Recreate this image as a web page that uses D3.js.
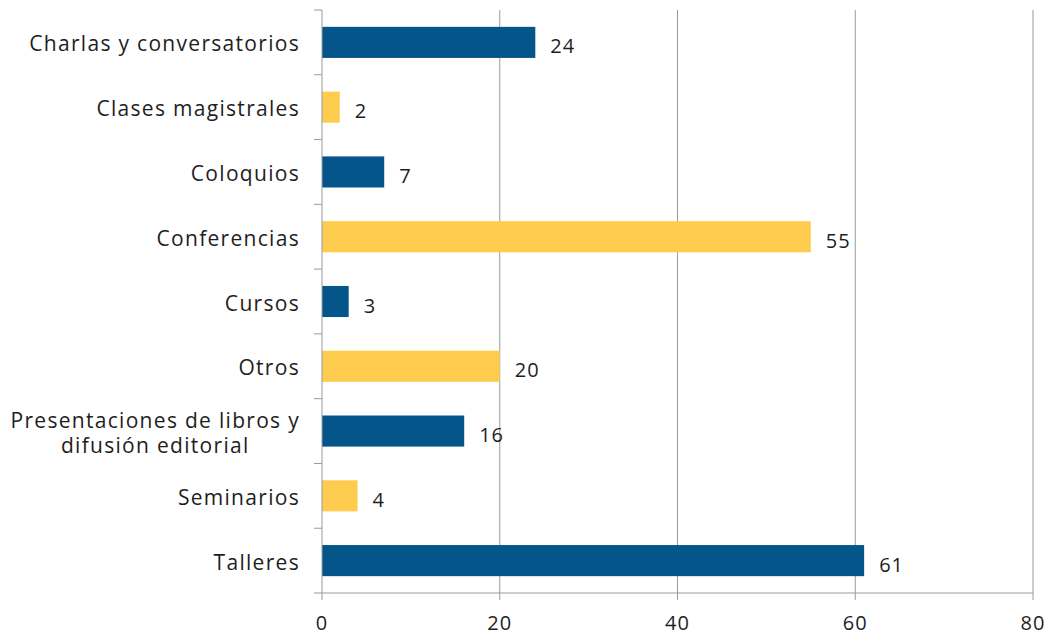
<!DOCTYPE html>
<html><head><meta charset="utf-8">
<script src="https://cdn.jsdelivr.net/npm/d3@7"></script>
<style>body{margin:0;background:#fff;}svg{display:block;font-family:"Open Sans",Lato,sans-serif;}</style>
</head><body>
<svg id="c" width="1052" height="634"></svg>
<script>
const categories = ["Charlas y conversatorios","Clases magistrales","Coloquios","Conferencias","Cursos","Otros","Presentaciones de libros y\ndifusión editorial","Seminarios","Talleres"];
const values = [24,2,7,55,3,20,16,4,61];
const barColors = ["#04558A","#FECD4F"];
const xTicks = [0,20,40,60,80];

const svg = d3.select("#c");
const m = {left:322, right:1033, top:10, bottom:593};
const x = d3.scaleLinear().domain([0,80]).range([m.left,m.right]);
const y = d3.scaleBand().domain(categories).range([m.top,m.bottom]).paddingInner(0.52).paddingOuter(0.26);
const yb = d3.scaleBand().domain(categories).range([m.top,m.bottom]);
const txt = "#1e1e1e";

// gridlines
svg.append("g").selectAll("line").data(xTicks.slice(1)).join("line")
  .attr("x1",d=>x(d)).attr("x2",d=>x(d)).attr("y1",m.top).attr("y2",m.bottom)
  .attr("stroke","#9a9a9a").attr("stroke-width",1);

// bars
svg.append("g").selectAll("rect").data(categories).join("rect")
  .attr("x",x(0)).attr("y",d=>y(d)).attr("height",y.bandwidth())
  .attr("width",(d,i)=>x(values[i])-x(0))
  .attr("fill",(d,i)=>barColors[i%2]);

// value labels
svg.append("g").selectAll("text").data(categories).join("text")
  .attr("x",(d,i)=>x(values[i])+15).attr("y",d=>y(d)+y.bandwidth()/2+11)
  .attr("font-size",20).attr("letter-spacing",1).attr("fill",txt)
  .text((d,i)=>values[i]);

// x axis
const xa = svg.append("g");
xa.append("line").attr("x1",m.left).attr("x2",m.right).attr("y1",m.bottom).attr("y2",m.bottom).attr("stroke","#9a9a9a");
xa.selectAll("line.t").data(xTicks).join("line").attr("class","t")
  .attr("x1",d=>x(d)).attr("x2",d=>x(d)).attr("y1",m.bottom).attr("y2",m.bottom+7).attr("stroke","#9a9a9a");
xa.selectAll("text").data(xTicks).join("text")
  .attr("x",d=>x(d)).attr("y",m.bottom+37).attr("text-anchor","middle")
  .attr("font-size",20).attr("letter-spacing",1).attr("fill",txt).text(d=>d);

// y axis
const ya = svg.append("g");
ya.append("line").attr("x1",m.left).attr("x2",m.left).attr("y1",m.top).attr("y2",m.bottom).attr("stroke","#9a9a9a");
const bounds = categories.map(c=>yb(c)).concat([m.bottom]);
ya.selectAll("line.t").data(bounds).join("line").attr("class","t")
  .attr("x1",m.left-8).attr("x2",m.left).attr("y1",d=>d).attr("y2",d=>d).attr("stroke","#9a9a9a");
ya.selectAll("text").data(categories).join("text")
  .attr("text-anchor","end").attr("font-size",21).attr("letter-spacing",1.3).attr("fill",txt)
  .each(function(d){
    const lines = d.split("\n");
    const t = d3.select(this);
    const cy = yb(d)+yb.bandwidth()/2;
    const lh = 25;
    lines.forEach((l,j)=>{
      t.append("tspan").attr("x",300)
       .attr("y", cy + 9 + (j-(lines.length-1)/2)*lh).text(l);
    });
  });
// center second line of multiline labels under first
ya.selectAll("text").each(function(d){
  const ts = d3.select(this).selectAll("tspan").nodes();
  if(ts.length>1){
    const w0 = ts[0].getComputedTextLength();
    const cx = 300 - w0/2;
    d3.select(this).attr("text-anchor","middle");
    ts.forEach(n=>{d3.select(n).attr("x",cx);});
  }
});
</script>
</body></html>
